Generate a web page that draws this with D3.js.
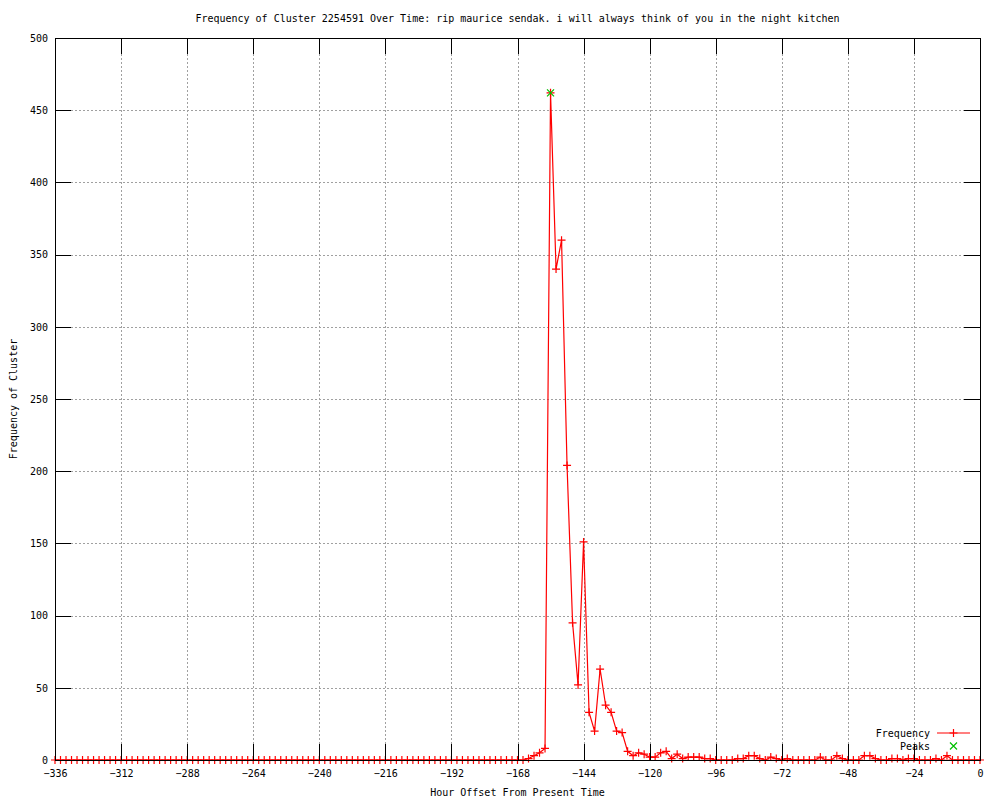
<!DOCTYPE html>
<html>
<head>
<meta charset="utf-8">
<script src="https://cdn.jsdelivr.net/npm/d3@7"></script>
<style>
  body { margin: 0; background: #fff; }
  svg { display: block; font-family: "DejaVu Sans Mono", monospace; font-size: 10px; }
</style>
</head>
<body>
<svg id="chart" width="1000" height="800"></svg>
<script>
// hour offsets run from -336 to 0 in steps of 2
const firstHour = -336, lastHour = 0, hourStep = 2;

// frequency per 2-hour bucket (-336 ... 0)
const frequency = [
    0, 0, 0, 0, 0, 0, 0, 0, 0, 0, 0, 0,          // -336 .. -314
    0, 0, 0, 0, 0, 0, 0, 0, 0, 0, 0, 0,          // -312 .. -290
    0, 0, 0, 0, 0, 0, 0, 0, 0, 0, 0, 0,          // -288 .. -266
    0, 0, 0, 0, 0, 0, 0, 0, 0, 0, 0, 0,          // -264 .. -242
    0, 0, 0, 0, 0, 0, 0, 0, 0, 0, 0, 0,          // -240 .. -218
    0, 0, 0, 0, 0, 0, 0, 0, 0, 0, 0, 0,          // -216 .. -194
    0, 0, 0, 0, 0, 0, 0, 0, 0, 0, 0, 0,          // -192 .. -170
    0, 0, 1, 3, 5, 8, 462, 340, 360, 204, 95, 52, // -168 .. -146
    151, 33, 20, 63, 38, 33, 20, 19, 6, 3, 5, 4,  // -144 .. -122
    2, 2, 5, 6, 1, 4, 1, 2, 2, 2, 1, 1,          // -120 .. -98
    0, 0, 0, 0, 1, 1, 3, 3, 1, 0, 2, 1,          // -96 .. -74
    0, 1, 0, 0, 0, 0, 0, 2, 0, 0, 3, 1,          // -72 .. -50
    0, 0, 0, 3, 3, 1, 0, 0, 1, 1, 0, 1,          // -48 .. -26
    1, 0, 0, 0, 1, 0, 3, 0, 0, 0, 0, 0,          // -24 .. -2
    0                                            // 0
];

const peakHours = [-156];
const peakValues = [462];

const xTicks = [-336, -312, -288, -264, -240, -216, -192, -168, -144, -120, -96, -72, -48, -24, 0];
const yTicks = [0, 50, 100, 150, 200, 250, 300, 350, 400, 450, 500];

const titleText = "Frequency of Cluster 2254591 Over Time: rip maurice sendak. i will always think of you in the night kitchen";
const xLabel = "Hour Offset From Present Time";
const yLabel = "Frequency of Cluster";

const plotLeft = 55, plotRight = 980, plotTop = 38, plotBottom = 760;
const red = "#ff0000", green = "#00c000";

const svg = d3.select("#chart");
svg.append("rect").attr("width", 1000).attr("height", 800).attr("fill", "#fff");

const x = d3.scaleLinear().domain([firstHour, lastHour]).range([plotLeft, plotRight]);
const y = d3.scaleLinear().domain([0, 500]).range([plotBottom, plotTop]);

const hours = d3.range(firstHour, lastHour + 1, hourStep);
const data = hours.map(function(h, i) { return {hour: h, value: frequency[i]}; });
const peaks = peakHours.map(function(h, i) { return {hour: h, value: peakValues[i]}; });

// grid
const grid = svg.append("g").attr("shape-rendering", "crispEdges")
    .attr("stroke", "#a0a0a0").attr("stroke-dasharray", "2,2");
grid.selectAll("vgrid").data(xTicks.slice(1, -1)).join("line")
    .attr("x1", function(d){return Math.round(x(d)) + 0.5}).attr("x2", function(d){return Math.round(x(d)) + 0.5})
    .attr("y1", plotTop).attr("y2", plotBottom);
grid.selectAll("hgrid").data(yTicks.slice(1, -1)).join("line")
    .attr("y1", function(d){return Math.round(y(d)) + 0.5}).attr("y2", function(d){return Math.round(y(d)) + 0.5})
    .attr("x1", plotLeft).attr("x2", plotRight);

// data line
svg.append("path")
    .datum(data)
    .attr("fill", "none")
    .attr("stroke", red)
    .attr("stroke-width", 1.2)
    .attr("d", d3.line()
        .x(function(d){return x(d.hour)})
        .y(function(d){return y(d.value)}));

// crosses on every point
const cross = 4;
svg.append("g").selectAll("pt").data(data).join("path")
    .attr("fill", "none").attr("stroke", red).attr("stroke-width", 1.2)
    .attr("d", function(d) {
        const px = x(d.hour), py = y(d.value);
        return "M" + (px - cross) + "," + py + "H" + (px + cross) + "M" + px + "," + (py - cross) + "V" + (py + cross);
    });

// peak markers
const xs = 3.5;
svg.append("g").selectAll("peak").data(peaks).join("path")
    .attr("fill", "none").attr("stroke", green).attr("stroke-width", 1.2)
    .attr("d", function(d) {
        const px = x(d.hour), py = y(d.value);
        return "M" + (px - xs) + "," + (py - xs) + "L" + (px + xs) + "," + (py + xs) +
               "M" + (px - xs) + "," + (py + xs) + "L" + (px + xs) + "," + (py - xs);
    });

// axes with inward ticks, mirrored on top and right
function styleAxis(g) {
    g.select(".domain").remove();
    g.selectAll(".tick line").attr("stroke", "#000").attr("shape-rendering", "crispEdges");
    g.selectAll(".tick text").attr("fill", "#000").style("font-family", "DejaVu Sans Mono, monospace").style("font-size", "10px");
}

svg.append("g")
    .attr("transform", "translate(0," + plotBottom + ")")
    .call(d3.axisBottom(x).tickValues(xTicks).tickSize(-16).tickPadding(10).tickFormat(d3.format("d")))
    .call(styleAxis);
svg.append("g")
    .attr("transform", "translate(0," + plotTop + ")")
    .call(d3.axisTop(x).tickValues(xTicks).tickSize(-16).tickFormat(""))
    .call(styleAxis);
svg.append("g")
    .attr("transform", "translate(" + plotLeft + ",0)")
    .call(d3.axisLeft(y).tickValues(yTicks).tickSize(-16).tickPadding(7).tickFormat(d3.format("d")))
    .call(styleAxis);
svg.append("g")
    .attr("transform", "translate(" + plotRight + ",0)")
    .call(d3.axisRight(y).tickValues(yTicks).tickSize(-16).tickFormat(""))
    .call(styleAxis);

// border
svg.append("rect")
    .attr("x", plotLeft + 0.5).attr("y", plotTop + 0.5)
    .attr("width", plotRight - plotLeft).attr("height", plotBottom - plotTop)
    .attr("fill", "none").attr("stroke", "#000").attr("shape-rendering", "crispEdges");

// titles
svg.append("text").text(titleText).attr("x", (plotLeft + plotRight) / 2).attr("y", 22).attr("text-anchor", "middle");
svg.append("text").text(xLabel).attr("x", (plotLeft + plotRight) / 2).attr("y", 796).attr("text-anchor", "middle");
svg.append("text").text(yLabel).attr("transform", "translate(17," + (plotTop + plotBottom) / 2 + ") rotate(-90)").attr("text-anchor", "middle");

// legend
const legendX = 930, legendY = 733;
svg.append("text").text("Frequency").attr("x", legendX).attr("y", legendY + 3.5).attr("text-anchor", "end");
svg.append("line").attr("x1", legendX + 7).attr("x2", legendX + 40).attr("y1", legendY).attr("y2", legendY)
    .attr("stroke", red).attr("stroke-width", 1.2);
svg.append("path").attr("fill", "none").attr("stroke", red).attr("stroke-width", 1.2)
    .attr("d", "M" + (legendX + 19.5) + "," + legendY + "H" + (legendX + 27.5) + "M" + (legendX + 23.5) + "," + (legendY - 4) + "V" + (legendY + 4));
svg.append("text").text("Peaks").attr("x", legendX).attr("y", legendY + 16.5).attr("text-anchor", "end");
svg.append("path").attr("fill", "none").attr("stroke", green).attr("stroke-width", 1.2)
    .attr("d", "M" + (legendX + 20) + "," + (legendY + 9.5) + "L" + (legendX + 27) + "," + (legendY + 16.5) +
               "M" + (legendX + 20) + "," + (legendY + 16.5) + "L" + (legendX + 27) + "," + (legendY + 9.5));
</script>
</body>
</html>
